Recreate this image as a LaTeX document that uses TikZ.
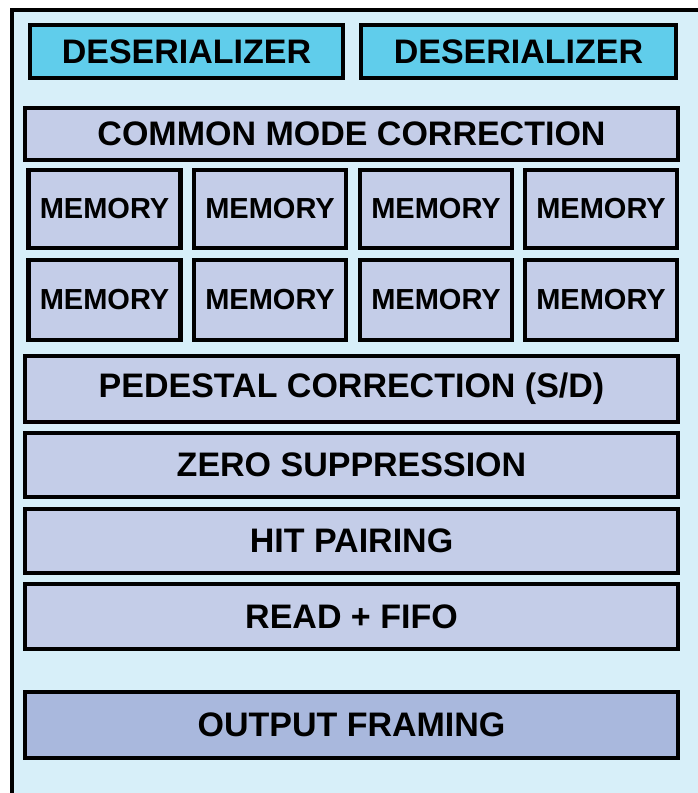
\documentclass[tikz,border=0pt]{standalone}
\usepackage{fontspec}
\setmainfont{Liberation Sans}
\definecolor{boardbg}{HTML}{D7EFF9}
\definecolor{desfill}{HTML}{60CDEB}
\definecolor{blockfill}{HTML}{C4CDE8}
\definecolor{outfill}{HTML}{A9B8DD}
\tikzset{
  block/.style={draw=black,line width=4.2pt,fill=blockfill,inner sep=0pt,
    font=\fontsize{34}{40}\selectfont\bfseries},
  desblock/.style={block,fill=desfill,minimum height=53pt},
  memblock/.style={block,minimum width=152pt,font=\fontsize{29}{34}\selectfont\bfseries},
  rowblock/.style={block,minimum width=653pt}
}
\begin{document}
\begin{tikzpicture}[x=1pt,y=-1pt]
  \useasboundingbox (0,0) rectangle (698,793);
  % board outline
  \fill[boardbg] (12,10) rectangle (700,795);
  \draw[line width=4pt] (12,795) -- (12,10) -- (700,10);
  % input stage
  \node[desblock,minimum width=313pt] (des1) at (186.5,51.5) {DESERIALIZER};
  \node[desblock,minimum width=315pt] (des2) at (518.5,51.5) {DESERIALIZER};
  \node[rowblock,minimum height=52pt] (cmc) at (351.5,134) {COMMON MODE CORRECTION};
  % memory banks
  \foreach \c [count=\i] in {104.5,270,436,601}{
    \node[memblock,minimum height=78pt] (memA\i) at (\c,209) {MEMORY};
    \node[memblock,minimum height=80pt] (memB\i) at (\c,300) {MEMORY};
  }
  % processing chain
  \node[rowblock,minimum height=66pt] (ped) at (351.5,389) {PEDESTAL CORRECTION (S/D)};
  \node[rowblock,minimum height=64pt] (zs) at (351.5,465) {ZERO SUPPRESSION};
  \node[rowblock,minimum height=64pt] (hit) at (351.5,541) {HIT PAIRING};
  \node[rowblock,minimum height=65pt] (fifo) at (351.5,616.5) {READ + FIFO};
  \node[rowblock,fill=outfill,minimum height=66pt] (frame) at (351.5,725) {OUTPUT FRAMING};
\end{tikzpicture}
\end{document}
